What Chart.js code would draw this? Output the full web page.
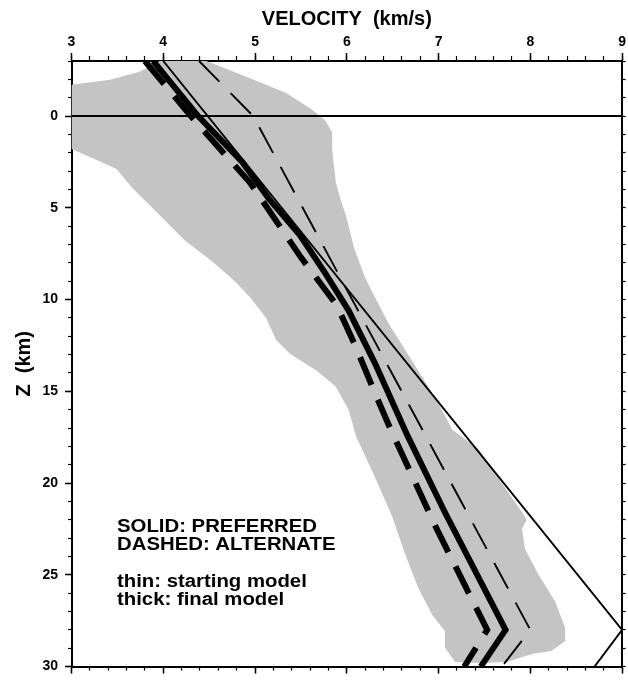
<!DOCTYPE html>
<html>
<head>
<meta charset="utf-8">
<script src="https://cdn.jsdelivr.net/npm/chart.js@4.4.1/dist/chart.umd.min.js"></script>
<style>
  html, body { margin: 0; padding: 0; background: #fff; }
  #wrap { width: 628px; height: 682px; position: relative; }
</style>
</head>
<body>
<div id="wrap"><canvas id="velChart"></canvas></div>
<script>
// tick labels
const velocityTicks = [3, 4, 5, 6, 7, 8, 9];
const depthTicks = [0, 5, 10, 15, 20, 25, 30];

// thick lines: final models
const finalPreferredDepth = [-3, 0, 2.5, 4.5, 6.5, 8.6, 10.6, 13.5, 17.4, 21.6, 28, 30];
const finalPreferredVel   = [3.89, 4.38, 4.86, 5.15, 5.49, 5.77, 6.02, 6.31, 6.66, 7.07, 7.73, 7.46];
const finalAlternateDepth = [-3, 0, 3.6, 4.9, 7.7, 10.3, 12.6, 14.9, 17.1, 22.5, 28, 30];
const finalAlternateVel   = [3.80, 4.30, 4.94, 5.12, 5.50, 5.89, 6.10, 6.29, 6.48, 6.98, 7.53, 7.28];

// thin lines: starting models
const startPreferredDepth = [-3, 28, 30];
const startPreferredVel   = [4.00, 9.00, 8.70];
const startAlternateDepth = [-3, 0, 28, 30];
const startAlternateVel   = [4.39, 4.98, 8.00, 7.69];

// z = 0 reference line
const zeroLineVel = [3, 9];
const zeroLineDepth = [0, 0];

// grey range of acceptable models (outline, clockwise)
const envelopeVel = [3.00, 3.42, 3.74, 3.92, 3.96, 4.47, 4.90, 5.34, 5.62, 5.77, 5.84, 5.84, 5.88, 5.93, 5.99,
  6.08, 6.20, 6.31, 6.46, 6.64, 6.82, 7.00, 7.15, 7.44, 7.76, 7.91, 7.96, 7.91, 7.94, 8.09, 8.27, 8.38, 8.38,
  8.23, 8.03, 7.74, 7.45, 7.18, 7.07, 7.07, 6.93, 6.78, 6.64, 6.49, 6.30, 6.10, 6.02, 5.88, 5.68, 5.38, 5.23,
  5.12, 4.95, 4.78, 4.55, 4.23, 3.88, 3.67, 3.49, 3.25, 3.00];
const envelopeDepth = [-1.71, -1.98, -2.42, -2.88, -3.0, -3.0, -2.15, -1.26, -0.36, 0.27, 0.9, 1.8, 3.6, 4.5, 5.4,
  7.2, 8.82, 9.9, 11.34, 12.77, 14.21, 15.66, 17.09, 18.17, 20.51, 21.59, 22.0, 22.49, 23.57, 25.0, 26.45, 27.88, 28.6,
  29.15, 29.3, 29.75, 29.8, 29.75, 28.97, 28.07, 27.17, 25.73, 23.93, 21.77, 19.6, 17.45, 16.0, 14.75, 13.9, 12.95, 12.2,
  11.0, 9.9, 9.0, 8.0, 6.75, 5.0, 3.96, 2.88, 2.34, 1.8];

const keyLines = ['SOLID: PREFERRED', 'DASHED: ALTERNATE', 'thin: starting model', 'thick: final model'];

const FONT = "'Liberation Sans', Arial, Helvetica, sans-serif";

function pts(vel, depth) {
  return vel.map((v, i) => ({ x: v, y: depth[i] }));
}

function lineSet(vel, depth, width, dash) {
  return {
    data: pts(vel, depth),
    showLine: true,
    borderColor: '#000',
    borderWidth: width,
    borderDash: dash || [],
    borderCapStyle: 'butt',
    borderJoinStyle: 'miter',
    pointRadius: 0,
    tension: 0,
    fill: false
  };
}

// one side of the frame; minor tick rows are extra axes of zero size
function sideAxis(axis, position, opts) {
  return Object.assign({
    type: 'linear',
    axis: axis,
    position: position,
    min: axis === 'x' ? 3 : -3,
    max: axis === 'x' ? 9 : 30,
    reverse: axis === 'y',
    ticks: { display: false },
    grid: { drawOnChartArea: false, drawTicks: true, tickColor: '#000', tickWidth: 1.3 },
    border: { display: true, color: '#000', width: 2 }
  }, opts);
}

// axis titles and the key text
const textPlugin = {
  id: 'textPlugin',
  afterDraw(chart) {
    const ctx = chart.ctx;
    const area = chart.chartArea;
    ctx.save();
    ctx.fillStyle = '#000';
    ctx.font = 'bold 20px ' + FONT;
    ctx.textAlign = 'center';
    ctx.textBaseline = 'alphabetic';
    ctx.fillText('VELOCITY  (km/s)', (area.left + area.right) / 2, 25);

    ctx.save();
    ctx.translate(30, (area.top + area.bottom) / 2);
    ctx.rotate(-Math.PI / 2);
    ctx.fillText('Z  (km)', 0, 0);
    ctx.restore();

    // the printed key is a slightly wide Helvetica
    ctx.textAlign = 'left';
    ctx.font = 'bold 18px ' + FONT;
    const x0 = area.left + 45.5;
    const baselines = [531.5, 550, 586.5, 604.5];
    keyLines.forEach((t, i) => {
      ctx.save();
      ctx.translate(x0, baselines[i]);
      ctx.scale(1.13, 1);
      ctx.fillText(t, 0, 0);
      ctx.restore();
    });
    ctx.restore();
  }
};

const envelope = {
  data: pts(envelopeVel, envelopeDepth),
  showLine: true,
  borderWidth: 0,
  borderColor: 'rgba(0,0,0,0)',
  backgroundColor: '#c4c4c4',
  pointRadius: 0,
  fill: 'shape',
  order: 10
};

new Chart(document.getElementById('velChart'), {
  type: 'scatter',
  data: {
    datasets: [
      lineSet(finalPreferredVel, finalPreferredDepth, 6),
      lineSet(finalAlternateVel, finalAlternateDepth, 6, [30, 16]),
      lineSet(startPreferredVel, startPreferredDepth, 1.9),
      lineSet(startAlternateVel, startAlternateDepth, 1.9, [29, 16]),
      lineSet(zeroLineVel, zeroLineDepth, 2),
      envelope
    ]
  },
  options: {
    responsive: true,
    maintainAspectRatio: false,
    animation: false,
    events: [],
    layout: { padding: 0 },
    plugins: {
      legend: { display: false },
      tooltip: { enabled: false },
      title: { display: false }
    },
    scales: {
      x: sideAxis('x', 'top', {
        weight: 1,
        afterBuildTicks: s => { s.ticks = velocityTicks.map(v => ({ value: v })); },
        ticks: { display: true, autoSkip: false, maxRotation: 0, padding: 2, color: '#000',
                 font: { family: FONT, size: 14, weight: 'bold' } },
        grid: { drawOnChartArea: false, tickLength: 8, tickColor: '#000', tickWidth: 1.5 },
        afterFit: s => { s.height = 61; }
      }),
      xMinorTop: sideAxis('x', 'top', {
        weight: 0,
        ticks: { display: false, stepSize: 0.2 },
        grid: { drawOnChartArea: false, tickLength: 5, tickColor: '#000', tickWidth: 1.2 },
        afterFit: s => { s.height = 0; }
      }),
      xBottom: sideAxis('x', 'bottom', {
        weight: 1,
        ticks: { display: false, stepSize: 1 },
        grid: { drawOnChartArea: false, tickLength: 7, tickColor: '#000', tickWidth: 1.5 },
        afterFit: s => { s.height = 10; }
      }),
      xMinorBottom: sideAxis('x', 'bottom', {
        weight: 0,
        ticks: { display: false, stepSize: 0.2 },
        grid: { drawOnChartArea: false, tickLength: 4, tickColor: '#000', tickWidth: 1.2 },
        afterFit: s => { s.height = 0; }
      }),
      y: sideAxis('y', 'left', {
        weight: 1,
        afterBuildTicks: s => { s.ticks = depthTicks.map(v => ({ value: v })); },
        ticks: { display: true, autoSkip: false, padding: 7, color: '#000',
                 font: { family: FONT, size: 14, weight: 'bold' } },
        grid: { drawOnChartArea: false, tickLength: 6.5, tickColor: '#000', tickWidth: 1.5 },
        afterFit: s => { s.width = 71.5; }
      }),
      yMinorLeft: sideAxis('y', 'left', {
        weight: 0,
        ticks: { display: false, stepSize: 1 },
        grid: { drawOnChartArea: false, tickLength: 3.5, tickColor: '#000', tickWidth: 1.2 },
        afterFit: s => { s.width = 0; }
      }),
      yRight: sideAxis('y', 'right', {
        ticks: { display: false, stepSize: 1 },
        grid: { drawOnChartArea: false, tickLength: 3.5, tickColor: '#000', tickWidth: 1.2 },
        afterFit: s => { s.width = 4; }
      })
    }
  },
  plugins: [textPlugin]
});
</script>
</body>
</html>
